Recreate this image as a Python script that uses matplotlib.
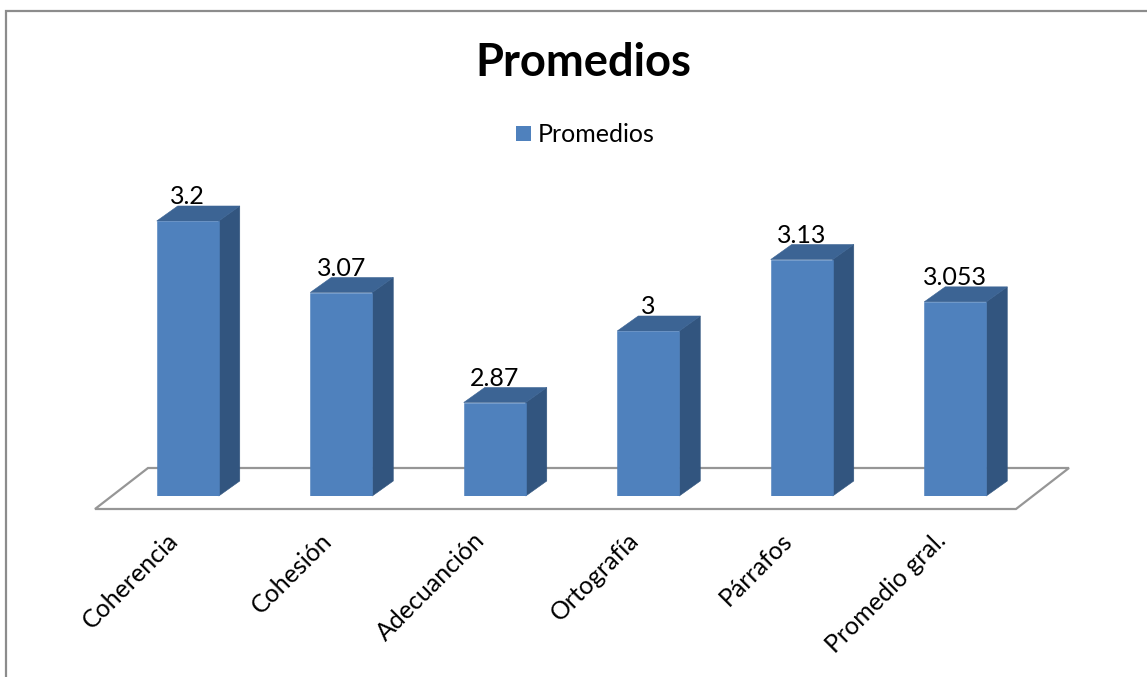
import matplotlib
matplotlib.use('Agg')
import matplotlib.pyplot as plt
from matplotlib.patches import Polygon, Rectangle

categories = ['Coherencia', 'Cohesión', 'Adecuanción', 'Ortografía', 'Párrafos', 'Promedio gral.']
values = [3.2, 3.07, 2.87, 3, 3.13, 3.053]
value_labels = ['3.2', '3.07', '2.87', '3', '3.13', '3.053']

W, H = 1147, 677
plt.rcParams['font.family'] = ['Lato', 'DejaVu Sans']

fig = plt.figure(figsize=(W / 100, H / 100), dpi=100)

# axes box in pixels: one category is 153.4 px wide, 550 px is one unit
left, right, top, bottom = 111, 1032, 140, 496
ax = fig.add_axes([left / W, 1 - bottom / H, (right - left) / W, (bottom - top) / H])
ax.set_xlim(-0.5, 5.5)
ax.set_ylim(2.7, 2.7 + (bottom - top) / 550)
ax.patch.set_visible(False)
for s in ax.spines.values():
    s.set_visible(False)
ax.tick_params(left=False, bottom=False, labelleft=False, labelbottom=False)

# chart frame and floor, in figure pixels
to_fig = lambda pts: [(x / W, 1 - y / H) for x, y in pts]
fig.add_artist(Rectangle((5.5 / W, -0.05), 1.1, 1.05 - 10.5 / H, transform=fig.transFigure,
                         fc='white', ec='#8c8c8c', lw=1.6, zorder=-2))
fig.add_artist(Polygon(to_fig([(95, 509), (148, 468), (1069, 468), (1016, 509)]), closed=True,
                       transform=fig.transFigure, fc='white', ec='#969696', lw=1.6, zorder=-1))

bar_w = 0.404
depth_x = 21 / 153.4
depth_y = 15 / 550

bars = ax.bar(range(len(values)), values, width=bar_w, bottom=0, color='#4f81bd',
              edgecolor='#4f81bd', linewidth=0.4, zorder=3)
for i, v in enumerate(values):
    x0 = i - bar_w / 2
    x1 = i + bar_w / 2
    ax.add_patch(Polygon([(x1, 2.7), (x1 + depth_x, 2.7 + depth_y), (x1 + depth_x, v + depth_y), (x1, v)],
                         closed=True, fc='#32557f', ec='#32557f', lw=0.4, zorder=2, clip_on=False))
    ax.add_patch(Polygon([(x0, v), (x0 + depth_x, v + depth_y), (x1 + depth_x, v + depth_y), (x1, v)],
                         closed=True, fc='#3c6494', ec='#3c6494', lw=0.4, zorder=2, clip_on=False))
    ax.annotate(value_labels[i], xy=(i, v + depth_y), xytext=(0, 6.5), textcoords='offset points',
                ha='center', va='center', fontsize=18, color='black', zorder=5)

# rotated category labels, right end anchored under each bar
for i, c in enumerate(categories):
    ax.annotate(c, xy=(i, 2.7), xytext=(-15.5, -23.5), textcoords='offset points', rotation=45,
                rotation_mode='anchor', ha='right', va='top', fontsize=18, color='black')

fig.text(583 / W, 1 - 63 / H, 'Promedios', ha='center', va='center', fontsize=32.7, fontweight='bold', color='black')

# legend
fig.add_artist(Rectangle((516 / W, 1 - 141 / H), 15 / W, 15 / H, transform=fig.transFigure, fc='#4f81bd', ec='none'))
fig.text(538 / W, 1 - 134 / H, 'Promedios', ha='left', va='center', fontsize=18, color='black')

fig.savefig('out.png', dpi=100)
